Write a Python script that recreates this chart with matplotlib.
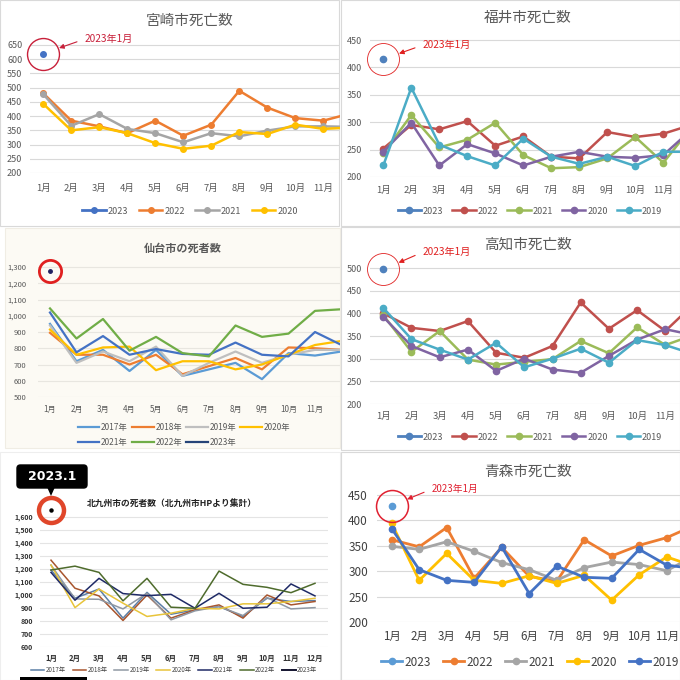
import matplotlib
matplotlib.use('Agg')
import matplotlib.pyplot as plt
from matplotlib.patches import Rectangle, FancyBboxPatch, Polygon
from matplotlib.lines import Line2D

plt.rcParams['font.family'] = ['Noto Sans CJK JP', 'DejaVu Sans']

W = H = 680
months = ['%d月' % m for m in range(1, 13)]

# --- 宮崎市 ---
miyazaki_2023 = [620]
miyazaki_2022 = [480, 384, 364, 340, 384, 331, 370, 489, 430, 393, 384, 410]
miyazaki_2021 = [477, 366, 407, 355, 340, 308, 340, 329, 349, 364, 364, 362]
miyazaki_2020 = [443, 350, 361, 340, 305, 285, 296, 344, 337, 370, 355, 360]

# --- 福井市 ---
fukui_2023 = [415]
fukui_2022 = [252, 295, 287, 302, 257, 274, 237, 234, 282, 273, 279, 295]
fukui_2021 = [243, 313, 254, 268, 299, 240, 216, 218, 234, 273, 226, 290]
fukui_2020 = [246, 299, 221, 260, 243, 221, 237, 246, 237, 235, 240, 286]
fukui_2019 = [221, 363, 259, 238, 221, 270, 237, 224, 237, 220, 246, 246]

# --- 仙台市 ---
sendai_2017 = [950, 720, 790, 660, 790, 630, 670, 710, 610, 770, 755, 780]
sendai_2018 = [895, 760, 760, 700, 760, 640, 690, 740, 670, 805, 800, 790]
sendai_2019 = [940, 710, 780, 720, 810, 630, 710, 780, 710, 760, 790, 790]
sendai_2020 = [915, 760, 805, 810, 665, 720, 720, 670, 700, 760, 820, 845]
sendai_2021 = [1020, 775, 875, 760, 795, 765, 760, 835, 760, 750, 900, 820]
sendai_2022 = [1045, 860, 980, 785, 870, 770, 750, 940, 870, 890, 1030, 1040]
sendai_2023 = [1277]

# --- 高知市 ---
kochi_2023 = [497]
kochi_2022 = [400, 368, 361, 383, 313, 302, 328, 424, 366, 407, 361, 420]
kochi_2021 = [396, 315, 361, 298, 287, 293, 299, 339, 312, 369, 330, 352]
kochi_2020 = [392, 328, 303, 320, 273, 300, 276, 269, 306, 342, 365, 352]
kochi_2019 = [412, 343, 320, 298, 335, 281, 300, 322, 291, 341, 330, 310]

# --- 北九州市 ---
kita_2017 = [1192, 975, 1046, 822, 1020, 852, 886, 911, 835, 975, 950, 957]
kita_2018 = [1268, 1052, 993, 804, 1000, 822, 886, 924, 822, 1000, 924, 950]
kita_2019 = [1230, 970, 967, 893, 1013, 809, 878, 911, 842, 980, 893, 903]
kita_2020 = [1230, 903, 1046, 937, 835, 860, 898, 893, 932, 932, 950, 975]
kita_2021 = [1174, 960, 1128, 1011, 995, 1005, 898, 1013, 898, 906, 1085, 993]
kita_2022 = [1192, 1222, 1174, 955, 1128, 906, 898, 1184, 1082, 1059, 1018, 1090]
kita_2023 = [1654]

# --- 青森市 ---
aomori_2023 = [429]
aomori_2022 = [362, 348, 386, 286, 347, 290, 280, 362, 330, 351, 366, 390]
aomori_2021 = [349, 343, 358, 339, 317, 303, 282, 307, 318, 313, 301, 330]
aomori_2020 = [394, 282, 335, 282, 276, 291, 276, 292, 243, 293, 328, 310]
aomori_2019 = [384, 303, 282, 278, 348, 256, 310, 288, 286, 343, 312, 305]

fig = plt.figure(figsize=(6.8, 6.8), dpi=100)
fig.patch.set_facecolor('white')


def fx(x):
    return x / W


def fy(y):
    return 1 - y / H


def box(x0, y0, x1, y1, fc='white', ec='#d9d9d9', lw=0.8):
    fig.patches.append(Rectangle((fx(x0), fy(y1)), (x1 - x0) / W, (y1 - y0) / H,
                                 transform=fig.transFigure, fc=fc, ec=ec, lw=lw, zorder=-10))


def make_ax(xl, xr, x1, dx, yb, vb, yr, vr, pad=6):
    # pixel layout -> axes with matching data limits
    ppu = (yb - yr) / (vr - vb)
    yt = yr - pad
    ax = fig.add_axes([fx(xl), fy(yb), (xr - xl) / W, (yb - yt) / H])
    ax.set_xlim((xl - x1) / dx, (xr - x1) / dx)
    ax.set_ylim(vb, vr + pad / ppu)
    ax.patch.set_visible(False)
    for s in ax.spines.values():
        s.set_visible(False)
    ax.tick_params(length=0)
    ax.grid(axis='y', color='#d9d9d9', lw=0.8)
    ax.set_axisbelow(True)
    return ax


def note(ax, val, tx, ty, color, fs=7.3, ms=23, mew=1.0):
    ax.plot([0], [val], marker='o', ms=ms, mfc='none', mec=color, mew=mew, clip_on=False)
    ax.annotate('2023年1月', xy=(0, val), xycoords='data',
                xytext=(tx, H - ty), textcoords='figure pixels',
                color=color, fontsize=fs, ha='left', va='center',
                arrowprops=dict(arrowstyle='-|>', color=color, lw=0.8, mutation_scale=7,
                                shrinkA=4, shrinkB=ms / 2 + 0.5, relpos=(0, 0.5)))


G = '#595959'
X = list(range(12))

# ================= 宮崎市 =================
box(0, 0, 339, 226)
ax = make_ax(30, 340, 43.3, 28, 173, 200, 45, 650)
ax.set_yticks(range(200, 651, 50))
ax.tick_params(axis='y', labelsize=6.5, labelcolor=G, pad=5.5)
ax.set_xticks(range(11), months[:11])
ax.tick_params(axis='x', labelsize=6.8, labelcolor=G, pad=7.5)
ax.plot([0], miyazaki_2023, '-o', color='#4472C4', lw=2, ms=4, label='2023')
ax.plot(X, miyazaki_2022, '-o', color='#ED7D31', lw=1.8, ms=4, label='2022')
ax.plot(X, miyazaki_2021, '-o', color='#A5A5A5', lw=1.8, ms=4, label='2021')
ax.plot(X, miyazaki_2020, '-o', color='#FFC000', lw=1.8, ms=4, label='2020')
note(ax, miyazaki_2023[0], 85, 39, '#c8203a')
fig.text(fx(190), fy(21), '宮崎市死亡数', fontsize=10.5, color=G, ha='center', va='center')
ax.legend(loc='center', bbox_to_anchor=(fx(190), fy(211)), bbox_transform=fig.transFigure,
          ncol=4, frameon=False, fontsize=6.5, labelcolor=G, handlelength=2.6,
          handletextpad=0.2, columnspacing=1.2)

# ================= 福井市 =================
box(341, 0, 680, 226)
ax = make_ax(370, 680, 383.3, 28, 177, 200, 40, 450)
ax.set_yticks(range(200, 451, 50))
ax.tick_params(axis='y', labelsize=6.5, labelcolor=G, pad=6)
ax.set_xticks(range(11), months[:11])
ax.tick_params(axis='x', labelsize=6.8, labelcolor=G, pad=6.5)
ax.plot([0], fukui_2023, '-o', color='#4F81BD', lw=2, ms=4.5, label='2023')
ax.plot(X, fukui_2022, '-o', color='#C0504D', lw=1.8, ms=4.5, label='2022')
ax.plot(X, fukui_2021, '-o', color='#9BBB59', lw=1.8, ms=4.5, label='2021')
ax.plot(X, fukui_2020, '-o', color='#8064A2', lw=1.8, ms=4.5, label='2020')
ax.plot(X, fukui_2019, '-o', color='#4BACC6', lw=1.8, ms=4.5, label='2019')
note(ax, fukui_2023[0], 423, 45, '#e02020', mew=0.6)
fig.text(fx(528), fy(18), '福井市死亡数', fontsize=10.5, color=G, ha='center', va='center')
ax.legend(loc='center', bbox_to_anchor=(fx(530), fy(211)), bbox_transform=fig.transFigure,
          ncol=5, frameon=False, fontsize=6.5, labelcolor=G, handlelength=2.6,
          handletextpad=0.2, columnspacing=1.0)

# ================= 仙台市 =================
box(5, 228, 340, 448, fc='#fcfaf4', ec='#f0ede4')
ax = make_ax(38, 340, 50, 26.5, 397, 500, 267, 1300)
ax.set_yticks(range(500, 1301, 100), ['{:,}'.format(v) for v in range(500, 1301, 100)])
ax.tick_params(axis='y', labelsize=5.5, labelcolor=G, pad=8.5)
ax.set_xticks(range(11), months[:11])
ax.tick_params(axis='x', labelsize=5.8, labelcolor=G, pad=6)
ax.grid(axis='y', color='#e8e6e0', lw=0.8)
sendai = [('2017年', sendai_2017, '#5B9BD5'), ('2018年', sendai_2018, '#ED7D31'),
          ('2019年', sendai_2019, '#BFBFBF'), ('2020年', sendai_2020, '#FFC000'),
          ('2021年', sendai_2021, '#4472C4'), ('2022年', sendai_2022, '#70AD47')]
hs = {}
for lab, vals, c in sendai:
    hs[lab], = ax.plot(X, vals, color=c, lw=1.6)
ax.plot([0], sendai_2023, 'o', color='#1f2060', ms=2.5)
hs['2023年'] = Line2D([], [], color='#264478', lw=1.6)
ax.plot([0], sendai_2023, marker='o', ms=16, mfc='none', mec='#e02020', mew=2, clip_on=False)
fig.text(fx(183), fy(248), '仙台市の死者数', fontsize=8, color=G, weight='bold', ha='center', va='center')
order = ['2017年', '2021年', '2018年', '2022年', '2019年', '2023年', '2020年']
ax.legend([hs[k] for k in order], order, loc='center', bbox_to_anchor=(fx(184), fy(435)),
          bbox_transform=fig.transFigure, ncol=4, frameon=False, fontsize=6, labelcolor=G,
          handlelength=2.6, handletextpad=0.2, columnspacing=0.5, labelspacing=0.7)

# ================= 高知市 =================
box(341, 227, 680, 450)
ax = make_ax(370, 680, 383.3, 28.2, 404, 200, 268, 500)
ax.set_yticks(range(200, 501, 50))
ax.tick_params(axis='y', labelsize=6.5, labelcolor=G, pad=6)
ax.set_xticks(range(11), months[:11])
ax.tick_params(axis='x', labelsize=6.8, labelcolor=G, pad=6)
ax.plot([0], kochi_2023, '-o', color='#4F81BD', lw=2, ms=4.5, label='2023')
ax.plot(X, kochi_2022, '-o', color='#C0504D', lw=1.8, ms=4.5, label='2022')
ax.plot(X, kochi_2021, '-o', color='#9BBB59', lw=1.8, ms=4.5, label='2021')
ax.plot(X, kochi_2020, '-o', color='#8064A2', lw=1.8, ms=4.5, label='2020')
ax.plot(X, kochi_2019, '-o', color='#4BACC6', lw=1.8, ms=4.5, label='2019')
note(ax, kochi_2023[0], 423, 252, '#e02020', mew=0.6)
fig.text(fx(528), fy(245), '高知市死亡数', fontsize=10.5, color=G, ha='center', va='center')
ax.legend(loc='center', bbox_to_anchor=(fx(530), fy(437)), bbox_transform=fig.transFigure,
          ncol=5, frameon=False, fontsize=6.5, labelcolor=G, handlelength=2.6,
          handletextpad=0.2, columnspacing=1.0)

# ================= 北九州市 =================
box(0, 452, 340, 680, ec='#eeeeee')
ax = make_ax(40, 328, 51, 24, 647, 600, 517, 1600)
ax.set_yticks(range(600, 1601, 100), ['{:,}'.format(v) for v in range(600, 1601, 100)])
ax.tick_params(axis='y', labelsize=5, labelcolor='#333333', pad=5)
ax.set_xticks(X, months)
ax.tick_params(axis='x', labelsize=5.5, labelcolor='#333333', pad=5)
for lab in ax.get_xticklabels() + ax.get_yticklabels():
    lab.set_fontweight('bold')
ax.grid(axis='y', color='#e4e4e4', lw=0.8)
kita = [('2017年', kita_2017, '#5b7fa6'), ('2018年', kita_2018, '#a8552e'),
        ('2019年', kita_2019, '#8f98a3'), ('2020年', kita_2020, '#e8c43a'),
        ('2021年', kita_2021, '#1f2a66'), ('2022年', kita_2022, '#4e6b2c')]
hs = []
for lab, vals, c in kita:
    h, = ax.plot(X, vals, color=c, lw=1.1, label=lab)
    hs.append(h)
ax.plot([0], kita_2023, 'o', color='black', ms=2.2, clip_on=False)
hs.append(Line2D([], [], color='#141430', lw=1.4, label='2023年'))
ax.plot([0], kita_2023, marker='o', ms=18, mfc='none', mec='#e0462a', mew=3.2, clip_on=False)
fig.text(fx(172), fy(503), '北九州市の死者数（北九州市HPより集計）', fontsize=6.3,
         color='#222222', weight='bold', ha='center', va='center')
ax.legend(handles=hs, loc='center', bbox_to_anchor=(fx(174), fy(670)), bbox_transform=fig.transFigure,
          ncol=7, frameon=False, fontsize=4.5, labelcolor='#444444', handlelength=2.2,
          handletextpad=0.2, columnspacing=1.1)
fig.patches.append(FancyBboxPatch((fx(17), fy(488)), 70 / W, 23 / H,
                                  boxstyle='round,pad=0,rounding_size=0.005',
                                  transform=fig.transFigure, fc='black', ec='black', zorder=3))
fig.patches.append(Polygon([(fx(47), fy(487)), (fx(55), fy(487)), (fx(51), fy(496))],
                           closed=True, transform=fig.transFigure, fc='black', ec='none', zorder=3))
fig.text(fx(52), fy(476.5), '2023.1', color='white', fontsize=9, weight='bold',
         family='DejaVu Sans', ha='center', va='center', zorder=4)
fig.patches.append(Rectangle((fx(20), fy(680)), 67 / W, 3 / H, transform=fig.transFigure,
                             fc='black', ec='none', zorder=3))

# ================= 青森市 =================
box(341, 452, 680, 680)
ax = make_ax(377, 680, 391.7, 27.5, 622, 200, 495, 450)
ax.set_yticks(range(200, 451, 50))
ax.tick_params(axis='y', labelsize=8.5, labelcolor='#404040', pad=6.5)
ax.set_xticks(range(11), months[:11])
ax.tick_params(axis='x', labelsize=8.3, labelcolor='#404040', pad=6)
ax.plot([0], aomori_2023, '-o', color='#5B9BD5', lw=2, ms=4.5, label='2023')
ax.plot(X, aomori_2022, '-o', color='#ED7D31', lw=2, ms=4.5, label='2022')
ax.plot(X, aomori_2021, '-o', color='#A5A5A5', lw=2, ms=4.5, label='2021')
ax.plot(X, aomori_2020, '-o', color='#FFC000', lw=2, ms=4.5, label='2020')
ax.plot(X, aomori_2019, '-o', color='#4472C4', lw=2, ms=4.5, label='2019')
note(ax, aomori_2023[0], 432, 489, '#e02030', fs=7, mew=1.1)
fig.text(fx(528), fy(472), '青森市死亡数', fontsize=10.5, color=G, ha='center', va='center')
ax.legend(loc='center', bbox_to_anchor=(fx(530), fy(662)), bbox_transform=fig.transFigure,
          ncol=5, frameon=False, fontsize=8.5, labelcolor='#404040', handlelength=1.8,
          handletextpad=0.2, columnspacing=1.0)

fig.savefig('out.png', dpi=100)
